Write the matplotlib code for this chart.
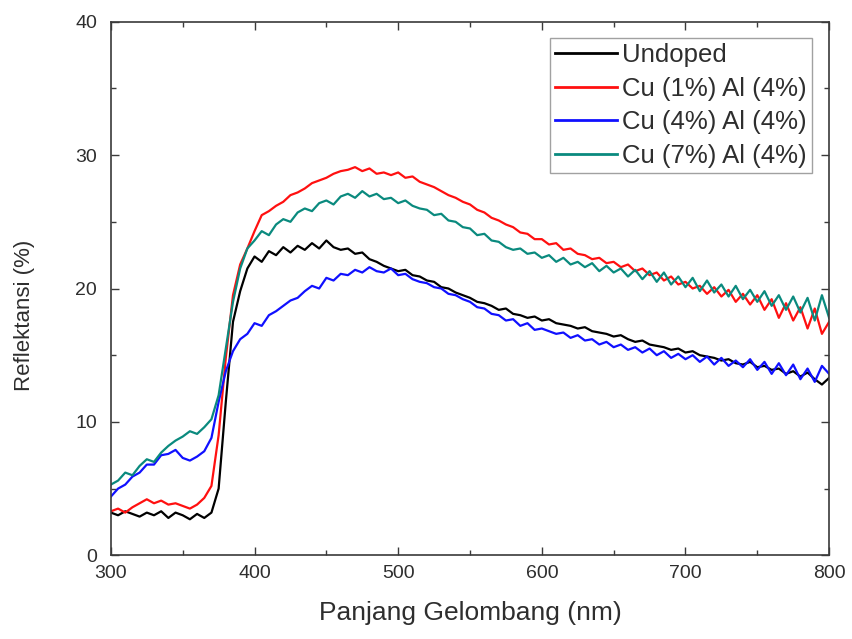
import numpy as np
import matplotlib
matplotlib.use("Agg")
import matplotlib.pyplot as plt

# Wavelength grid (nm), 5 nm steps
wavelength = np.arange(300, 801, 5)

undoped = [
    3.2, 3.0, 3.3, 3.1, 2.9, 3.2, 3.0, 3.3, 2.8, 3.2,
    3.0, 2.7, 3.1, 2.8, 3.2, 5.0, 11.5, 17.5, 19.8, 21.5,
    22.4, 22.0, 22.8, 22.5, 23.1, 22.7, 23.2, 22.9, 23.4, 23.0,
    23.6, 23.1, 22.9, 23.0, 22.6, 22.7, 22.2, 22.0, 21.7, 21.5,
    21.3, 21.4, 21.0, 20.9, 20.6, 20.5, 20.1, 20.0, 19.7, 19.5,
    19.3, 19.0, 18.9, 18.7, 18.4, 18.5, 18.1, 18.0, 17.8, 17.9,
    17.6, 17.7, 17.4, 17.3, 17.2, 17.0, 17.1, 16.8, 16.7, 16.6,
    16.4, 16.5, 16.2, 16.0, 16.1, 15.8, 15.7, 15.6, 15.4, 15.5,
    15.2, 15.3, 15.0, 14.9, 14.8, 14.6, 14.7, 14.4, 14.3, 14.5,
    14.1, 14.2, 13.9, 14.0, 13.6, 13.8, 13.4, 13.7, 13.2, 12.8,
    13.3,
]

cu1_al4 = [
    3.3, 3.5, 3.2, 3.6, 3.9, 4.2, 3.9, 4.1, 3.8, 3.9,
    3.7, 3.5, 3.8, 4.3, 5.2, 9.0, 14.8, 19.5, 21.8, 23.0,
    24.3, 25.5, 25.8, 26.2, 26.5, 27.0, 27.2, 27.5, 27.9, 28.1,
    28.3, 28.6, 28.8, 28.9, 29.1, 28.8, 29.0, 28.6, 28.7, 28.5,
    28.7, 28.3, 28.4, 28.0, 27.8, 27.6, 27.3, 27.0, 26.8, 26.5,
    26.3, 25.9, 25.7, 25.3, 25.1, 24.8, 24.6, 24.2, 24.1, 23.7,
    23.7, 23.3, 23.4, 22.9, 23.0, 22.6, 22.5, 22.2, 22.3, 21.9,
    22.0, 21.6, 21.8, 21.3, 21.5, 21.0, 21.2, 20.6, 20.9, 20.3,
    20.5, 20.0, 20.2, 19.6, 20.1, 19.4, 19.9, 19.0, 19.6, 18.8,
    19.5, 18.4, 19.2, 17.8, 18.9, 17.6, 18.6, 17.0, 18.5, 16.6,
    17.5,
]

cu4_al4 = [
    4.4, 5.0, 5.3, 5.9, 6.2, 6.8, 6.8, 7.5, 7.6, 7.9,
    7.3, 7.1, 7.4, 7.8, 8.8, 11.5, 13.8, 15.3, 16.2, 16.6,
    17.4, 17.2, 18.0, 18.3, 18.7, 19.1, 19.3, 19.8, 20.2, 20.0,
    20.8, 20.6, 21.1, 21.0, 21.4, 21.2, 21.6, 21.3, 21.2, 21.5,
    21.0, 21.1, 20.7, 20.5, 20.4, 20.1, 20.0, 19.6, 19.5, 19.2,
    19.0, 18.6, 18.5, 18.1, 18.0, 17.6, 17.7, 17.2, 17.4, 16.9,
    17.0, 16.8, 16.6, 16.7, 16.3, 16.5, 16.1, 16.2, 15.8, 16.0,
    15.6, 15.8, 15.4, 15.6, 15.2, 15.5, 15.0, 15.3, 14.8, 15.1,
    14.7, 15.0, 14.5, 14.9, 14.3, 14.8, 14.2, 14.6, 14.1, 14.7,
    13.9, 14.5, 13.6, 14.4, 13.5, 14.3, 13.2, 14.0, 13.0, 14.2,
    13.6,
]

cu7_al4 = [
    5.3, 5.6, 6.2, 6.0, 6.7, 7.2, 7.0, 7.7, 8.2, 8.6,
    8.9, 9.3, 9.1, 9.6, 10.2, 12.0, 15.5, 19.0, 21.5, 23.0,
    23.6, 24.3, 24.0, 24.8, 25.2, 25.0, 25.7, 26.0, 25.8, 26.4,
    26.6, 26.3, 26.9, 27.1, 26.8, 27.3, 26.9, 27.1, 26.7, 26.8,
    26.4, 26.6, 26.2, 26.0, 25.9, 25.5, 25.6, 25.1, 25.0, 24.6,
    24.5, 24.0, 24.1, 23.6, 23.5, 23.1, 22.9, 23.0, 22.6, 22.7,
    22.3, 22.5, 22.0, 22.3, 21.8, 22.0, 21.6, 21.9, 21.3, 21.7,
    21.2, 21.5, 20.9, 21.4, 20.7, 21.3, 20.5, 21.2, 20.3, 20.9,
    20.1, 20.8, 19.8, 20.6, 19.7, 20.3, 19.4, 20.2, 19.2, 19.9,
    19.0, 19.8, 18.7, 19.5, 18.4, 19.4, 18.2, 19.3, 17.6, 19.5,
    17.8,
]

series_labels = ["Undoped", "Cu (1%) Al (4%)", "Cu (4%) Al (4%)", "Cu (7%) Al (4%)"]
series_colors = ["#000000", "#ff1010", "#1010ff", "#0a8a7e"]
x_ticks = [300, 400, 500, 600, 700, 800]
y_ticks = [0, 10, 20, 30, 40]

plt.rcParams["font.family"] = ["Liberation Sans", "DejaVu Sans"]
text_color = "#2e2e2e"
spine_color = "#3a3a3a"

fig = plt.figure(figsize=(8.53, 6.39), dpi=100)
ax = fig.add_axes([0.130, 0.131, 0.842, 0.835])

for vals, lab, col in zip([undoped, cu1_al4, cu4_al4, cu7_al4], series_labels, series_colors):
    ax.plot(wavelength, vals, color=col, lw=1.6, label=lab)

ax.set_xlim(300, 800)
ax.set_ylim(0, 40)
ax.set_xticks(x_ticks)
ax.set_yticks(y_ticks)
ax.set_xticks(np.arange(350, 800, 100), minor=True)
ax.set_yticks(np.arange(5, 40, 10), minor=True)

ax.tick_params(which="both", direction="in", top=True, right=True,
               color=spine_color, width=1.0)
ax.tick_params(which="major", length=6, labelsize=14, labelcolor=text_color)
ax.tick_params(which="minor", length=3.5)
ax.tick_params(axis="x", which="major", pad=7)
ax.tick_params(axis="y", which="major", pad=10)

for sp in ax.spines.values():
    sp.set_color(spine_color)
    sp.set_linewidth(1.2)

ax.set_xlabel("Panjang Gelombang (nm)", fontsize=19, color=text_color, labelpad=14)
ax.set_ylabel("Reflektansi (%)", fontsize=16, color=text_color)
ax.yaxis.set_label_coords(-0.105, 0.45)

leg = ax.legend(loc="upper right", bbox_to_anchor=(0.976, 0.970), borderaxespad=0,
                fontsize=18.5, frameon=True, fancybox=False, handlelength=2.4,
                handletextpad=0.2, labelspacing=0.38, borderpad=0.2)
leg.get_frame().set_edgecolor("#8a8a8a")
leg.get_frame().set_linewidth(1.0)
for t in leg.get_texts():
    t.set_color(text_color)
for h in leg.get_lines():
    h.set_linewidth(2.0)

fig.savefig("out.png", dpi=100)
